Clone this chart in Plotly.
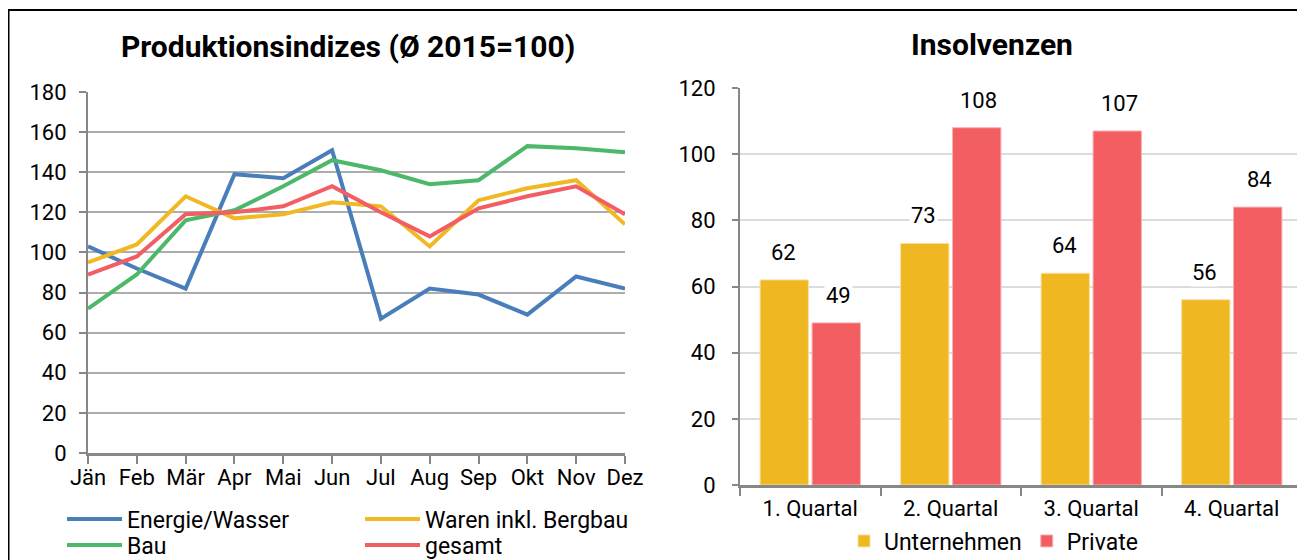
import plotly.graph_objects as go

months = ["Jän", "Feb", "Mär", "Apr", "Mai", "Jun", "Jul", "Aug", "Sep", "Okt", "Nov", "Dez"]
energie = [103, 92, 82, 139, 137, 151, 67, 82, 79, 69, 88, 82]
waren = [95, 104, 128, 117, 119, 125, 123, 103, 126, 132, 136, 114]
bau = [72, 89, 116, 121, 133, 146, 141, 134, 136, 153, 152, 150]
gesamt = [89, 98, 119, 120, 123, 133, 120, 108, 122, 128, 133, 119]

quartale = ["1. Quartal", "2. Quartal", "3. Quartal", "4. Quartal"]
unternehmen = [62, 73, 64, 56]
private = [49, 108, 107, 84]

FONT = "Roboto, Liberation Sans, sans-serif"
BLUE = "#4A7EBB"
YELLOW = "#F0B823"
GREEN = "#4DB86A"
RED = "#F25E63"
BAR_Y = "#EFB721"
BAR_R = "#F25E62"

# page body has an 8px margin; figure sized to fit the window
OFF = 8
W, H = 1305 - OFF, 560 - OFF


def px_x(p):
    return (p - OFF) / W


def px_y(p):
    return 1 - (p - OFF) / H


fig = go.Figure()

for name, vals, col, lg in [
    ("Energie/Wasser", energie, BLUE, "legend"),
    ("Waren inkl. Bergbau", waren, YELLOW, "legend"),
    ("Bau", bau, GREEN, "legend2"),
    ("gesamt", gesamt, RED, "legend2"),
]:
    fig.add_trace(go.Scatter(x=months, y=vals, name=name, mode="lines",
                             line=dict(color=col, width=4), legend=lg,
                             xaxis="x", yaxis="y"))

fig.add_trace(go.Bar(x=quartale, y=unternehmen, name="Unternehmen",
                     marker=dict(color=BAR_Y, line=dict(color="#F7E0A0", width=1)),
                     xaxis="x2", yaxis="y2", legend="legend3"))
fig.add_trace(go.Bar(x=quartale, y=private, name="Private",
                     marker=dict(color=BAR_R, line=dict(color="#F8B0B2", width=1)),
                     xaxis="x2", yaxis="y2", legend="legend3"))

LABEL_FONT = dict(family=FONT, size=22, color="black")
annotations = []
for q, v in zip(quartale, unternehmen):
    annotations.append(dict(x=q, y=v, xref="x2", yref="y2", text=str(v), showarrow=False,
                            xshift=-27, yshift=13, yanchor="bottom", bgcolor="white",
                            font=LABEL_FONT))
for q, v in zip(quartale, private):
    annotations.append(dict(x=q, y=v, xref="x2", yref="y2", text=str(v), showarrow=False,
                            xshift=28, yshift=13, yanchor="bottom", bgcolor="white",
                            font=LABEL_FONT))

annotations.append(dict(x=px_x(348), y=px_y(47), xref="paper", yref="paper", showarrow=False,
                        text="<b>Produktionsindizes (Ø 2015=100)</b>", xanchor="center", yanchor="middle",
                        font=dict(family=FONT, size=30, color="black")))
annotations.append(dict(x=px_x(992), y=px_y(45), xref="paper", yref="paper", showarrow=False,
                        text="<b>Insolvenzen</b>", xanchor="center", yanchor="middle",
                        font=dict(family=FONT, size=30, color="black")))

shapes = [
    dict(type="line", xref="paper", yref="paper", x0=0, x1=1, y0=px_y(10), y1=px_y(10),
         line=dict(color="black", width=2)),
    dict(type="line", xref="paper", yref="paper", x0=0.0004, x1=0.0004, y0=px_y(10), y1=0,
         line=dict(color="black", width=2)),
]

axfont = dict(family=FONT, size=22, color="black")
legfont = dict(family=FONT, size=23, color="black")

fig.update_layout(
    width=W, height=H,
    margin=dict(l=0, r=0, t=0, b=0, autoexpand=False),
    paper_bgcolor="white", plot_bgcolor="white",
    font=dict(family=FONT, size=22, color="black"),
    barmode="group", bargap=0.26, bargroupgap=0.07,
    xaxis=dict(domain=[px_x(88), px_x(625)], anchor="y", type="category", range=[0, 11],
               showline=True, linecolor="#878787", linewidth=3, ticks="outside", ticklen=8,
               tickcolor="#878787", tickwidth=2, showgrid=False, tickfont=axfont, tickangle=0,
               ticklabelstandoff=-5),
    yaxis=dict(domain=[px_y(453), px_y(92)], anchor="x", range=[0, 180], dtick=20,
               showline=True, linecolor="#878787", linewidth=2, ticks="outside", ticklen=7,
               tickcolor="#878787", tickwidth=2, gridcolor="#ADADAD", gridwidth=2,
               zeroline=False, tickfont=axfont, ticklabelstandoff=8),
    xaxis2=dict(domain=[px_x(740), px_x(1302)], anchor="y2", type="category", range=[-0.5, 3.5],
                showline=True, linecolor="#878787", linewidth=3, ticks="outside", ticklen=8,
                tickson="boundaries", tickcolor="#878787", tickwidth=2, showgrid=False,
                tickfont=axfont, ticklabelstandoff=2),
    yaxis2=dict(domain=[px_y(485), px_y(88)], anchor="x2", range=[0, 120], dtick=20,
                showline=True, linecolor="#878787", linewidth=2, ticks="outside", ticklen=6,
                tickcolor="#878787", tickwidth=2, gridcolor="#DCDCDC", gridwidth=2,
                zeroline=False, tickfont=axfont, ticklabelstandoff=12),
    legend=dict(orientation="h", x=px_x(62), y=px_y(519), xanchor="left", yanchor="middle",
                entrywidth=228, entrywidthmode="pixels", itemwidth=55,
                font=legfont, bgcolor="rgba(0,0,0,0)", traceorder="normal"),
    legend2=dict(orientation="h", x=px_x(62), y=px_y(545), xanchor="left", yanchor="middle",
                 entrywidth=228, entrywidthmode="pixels", itemwidth=55,
                 font=legfont, bgcolor="rgba(0,0,0,0)", traceorder="normal"),
    legend3=dict(orientation="h", x=px_x(844), y=px_y(541), xanchor="left", yanchor="middle",
                 font=legfont, bgcolor="rgba(0,0,0,0)", traceorder="normal",
                 itemwidth=30),
    annotations=annotations,
    shapes=shapes,
    showlegend=True,
)

fig.write_html("out.html")
